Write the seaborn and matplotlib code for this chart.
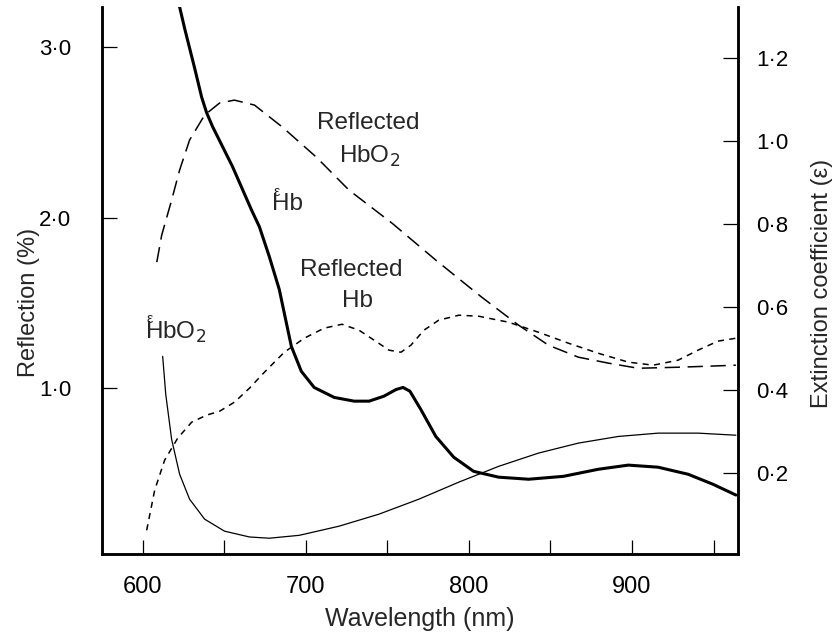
import matplotlib
matplotlib.use("Agg")
import matplotlib.pyplot as plt
import seaborn as sns
import pandas as pd
from matplotlib.ticker import FixedLocator, FixedFormatter

# ---- data ----
# Reflected HbO2 (left axis, %)
refl_hbo2_nm = [608.6, 611.6, 617.7, 622.6, 628.7, 637.9, 647.1, 656.2, 668.5, 685.6,
                706.4, 726.5, 752.8, 779.7, 807.8, 830.4, 848.8, 867.1, 885.5, 903.8,
                928.2, 946.6, 963.7]
refl_hbo2_val = [1.739, 1.897, 2.103, 2.279, 2.455, 2.601, 2.672, 2.689, 2.660, 2.531,
                 2.355, 2.161, 1.968, 1.751, 1.534, 1.370, 1.252, 1.182, 1.147, 1.117,
                 1.123, 1.129, 1.135]

# Reflected Hb (left axis, %)
refl_hb_nm = [602.4, 607.3, 613.4, 621.4, 630.0, 639.1, 647.1, 656.2, 665.4, 674.6,
              686.8, 699.0, 711.2, 722.2, 732.6, 741.8, 751.0, 758.3, 764.4, 772.4,
              781.5, 793.8, 806.0, 824.3, 842.7, 861.0, 879.3, 897.7, 913.0, 928.2,
              940.5, 952.7, 963.7]
refl_hb_val = [0.167, 0.402, 0.578, 0.707, 0.801, 0.842, 0.865, 0.918, 1.000, 1.094,
               1.211, 1.293, 1.352, 1.375, 1.340, 1.282, 1.223, 1.211, 1.252, 1.340,
               1.399, 1.428, 1.422, 1.387, 1.328, 1.264, 1.205, 1.153, 1.135, 1.164,
               1.223, 1.276, 1.293]

# Extinction coefficient of Hb (right axis)
ext_hb_nm = [618.0, 622.6, 625.7, 631.8, 636.1, 639.1, 642.8, 655.0, 666.6, 671.5,
             677.6, 683.7, 691.1, 697.2, 705.1, 717.4, 729.6, 738.8, 747.9, 755.3,
             759.6, 763.8, 770.5, 779.7, 790.7, 802.9, 818.2, 836.6, 858.0, 879.3,
             897.7, 916.0, 934.4, 949.6, 963.7]
ext_hb_val = [1.40, 1.322, 1.270, 1.175, 1.105, 1.068, 1.034, 0.938, 0.834, 0.793,
              0.721, 0.642, 0.505, 0.445, 0.406, 0.382, 0.373, 0.373, 0.385, 0.401,
              0.406, 0.397, 0.353, 0.288, 0.238, 0.204, 0.190, 0.185, 0.192, 0.209,
              0.219, 0.214, 0.197, 0.173, 0.147]

# Extinction coefficient of HbO2 (right axis)
ext_hbo2_nm = [612.2, 614.1, 617.7, 622.6, 628.7, 637.9, 650.1, 665.4, 677.6, 696.0,
               720.4, 744.9, 769.3, 793.8, 818.2, 842.7, 867.1, 891.6, 916.0, 940.5,
               963.7]
ext_hbo2_val = [0.481, 0.389, 0.281, 0.197, 0.137, 0.089, 0.060, 0.046, 0.043, 0.050,
                0.072, 0.101, 0.137, 0.178, 0.216, 0.248, 0.272, 0.288, 0.296, 0.296,
                0.291]

left_ticks = [1.0, 2.0, 3.0]
left_labels = ["1·0", "2·0", "3·0"]
right_ticks = [0.2, 0.4, 0.6, 0.8, 1.0, 1.2]
right_labels = ["0·2", "0·4", "0·6", "0·8", "1·0", "1·2"]
x_major = [600, 700, 800, 900]
x_major_labels = ["600", "700", "800", "900"]
x_minor = [650, 750, 850, 950]

# ---- styling ----
sns.set_style("white")
plt.rcParams["font.family"] = ["Liberation Sans", "DejaVu Sans"]

fig = plt.figure(figsize=(8.4, 6.38), dpi=100)
ax = fig.add_axes([102/840, 1-554/638, 636/840, 547/638])
ax2 = ax.twinx()

df_rhbo2 = pd.DataFrame({"nm": refl_hbo2_nm, "v": refl_hbo2_val})
df_rhb = pd.DataFrame({"nm": refl_hb_nm, "v": refl_hb_val})
df_ehb = pd.DataFrame({"nm": ext_hb_nm, "v": ext_hb_val})
df_ehbo2 = pd.DataFrame({"nm": ext_hbo2_nm, "v": ext_hbo2_val})

sns.lineplot(data=df_rhbo2, x="nm", y="v", ax=ax, color="black", lw=1.1,
             sort=False, estimator=None)
ax.lines[-1].set_dashes((10, 5))
sns.lineplot(data=df_rhb, x="nm", y="v", ax=ax, color="black", lw=1.1,
             sort=False, estimator=None)
ax.lines[-1].set_dashes((4, 3.5))

sns.lineplot(data=df_ehb, x="nm", y="v", ax=ax2, color="black", lw=2.2,
             sort=False, estimator=None)
sns.lineplot(data=df_ehbo2, x="nm", y="v", ax=ax2, color="black", lw=0.9,
             sort=False, estimator=None)

ax.set_xlim(575, 965)
ax.set_ylim(0.028, 3.235)
ax2.set_ylim(0.005, 1.322)

for a in (ax, ax2):
    a.spines["top"].set_visible(False)
    for s in ("left", "right", "bottom"):
        a.spines[s].set_linewidth(1.8)
        a.spines[s].set_color("black")
    a.grid(False)

ax.yaxis.set_major_locator(FixedLocator(left_ticks))
ax.yaxis.set_major_formatter(FixedFormatter(left_labels))
ax2.yaxis.set_major_locator(FixedLocator(right_ticks))
ax2.yaxis.set_major_formatter(FixedFormatter(right_labels))
ax.xaxis.set_major_locator(FixedLocator(x_major))
ax.xaxis.set_major_formatter(FixedFormatter(x_major_labels))
ax.xaxis.set_minor_locator(FixedLocator(x_minor))

ax.tick_params(axis="y", which="major", direction="in", length=11, width=0.9,
               pad=22, labelsize=16, colors="black", left=True, right=False)
ax2.tick_params(axis="y", which="major", direction="in", length=11, width=0.9,
                pad=13, labelsize=16, colors="black", right=True, left=False)
ax.tick_params(axis="x", which="both", direction="in", length=10, width=0.9,
               pad=16, labelsize=17, colors="black", bottom=True)

ax.set_xlabel("Wavelength (nm)", fontsize=18)
ax.set_ylabel("Reflection (%)", fontsize=17)
ax2.set_ylabel("Extinction coefficient (ε)", fontsize=17)
ax.xaxis.set_label_coords(0.5, -0.097)
ax.yaxis.set_label_coords(-0.098, 0.459)
ax2.yaxis.set_label_coords(1.115, 0.495)

# in-plot labels (data coords of left axis)
ax.text(738.1, 2.554, "Reflected", fontsize=17.5, ha="center", va="center")
ax.text(738.8, 2.36, "HbO$_2$", fontsize=17.5, ha="center", va="center")
ax.text(727.8, 1.692, "Reflected", fontsize=17.5, ha="center", va="center")
ax.text(731.4, 1.51, "Hb", fontsize=17.5, ha="center", va="center")


def eps_label(x, y, txt):
    ax.text(x, y, txt, fontsize=17.5, ha="left", va="center")
    ax.annotate("ε", xy=(x, y), xycoords="data", xytext=(1.0, 9),
                textcoords="offset points", fontsize=10, ha="left", va="center")


eps_label(679.5, 2.08, "Hb")
eps_label(601.2, 1.33, "HbO$_2$")

fig.savefig("out.png", dpi=100)
